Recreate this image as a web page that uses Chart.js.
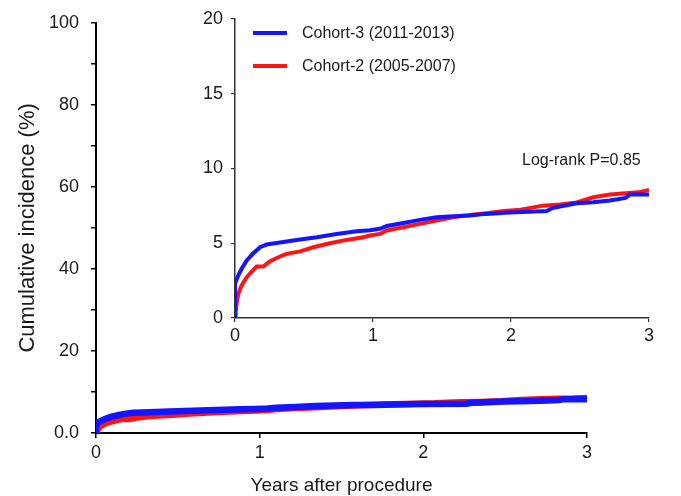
<!DOCTYPE html>
<html>
<head>
<meta charset="utf-8">
<script src="https://cdn.jsdelivr.net/npm/chart.js@4.4.1/dist/chart.umd.min.js"></script>
<style>
  html, body { margin: 0; padding: 0; background: #fff; }
  #wrap { position: relative; width: 681px; height: 496px; overflow: hidden; font-family: "Liberation Sans", Arial, sans-serif; color: #1a1a1a; }
  canvas { position: absolute; }
  #main { left: 0; top: 0; }
  #inset { left: 180px; top: 0; }
  .lg-line { position: absolute; left: 253px; width: 34px; height: 4px; }
  .lg-text { position: absolute; left: 302px; font-size: 16px; line-height: 18px; white-space: nowrap; }
  #logrank { position: absolute; left: 522px; top: 151px; font-size: 16px; line-height: 18px; white-space: nowrap; }
</style>
</head>
<body>
<div id="wrap">
  <canvas id="main" width="681" height="496"></canvas>
  <canvas id="inset" width="490" height="350"></canvas>
  <div class="lg-line" style="top:31px;background:rgb(20,20,255);"></div>
  <div class="lg-text" id="lg0" style="top:24px;"></div>
  <div class="lg-line" style="top:64px;background:rgb(255,20,20);"></div>
  <div class="lg-text" id="lg1" style="top:57px;"></div>
  <div id="logrank"></div>
</div>
<script>
// ---- data ----
const seriesNames = ['Cohort-3 (2011-2013)', 'Cohort-2 (2005-2007)'];
const annotationText = 'Log-rank P=0.85';

const cohort3Years  = [0, 0, 0.024, 0.048, 0.085, 0.133, 0.181, 0.229, 0.326, 0.447, 0.592, 0.737, 0.882, 0.978, 1.05, 1.10, 1.22, 1.34, 1.46, 1.58, 1.70, 1.82, 1.99, 2.26, 2.30, 2.355, 2.476, 2.596, 2.717, 2.83, 2.86, 3.0];
const cohort3Values = [0, 2.3, 2.85, 3.29, 3.85, 4.33, 4.73, 4.91, 5.05, 5.22, 5.4, 5.62, 5.8, 5.87, 5.96, 6.15, 6.35, 6.56, 6.73, 6.8, 6.85, 6.96, 7.05, 7.15, 7.35, 7.45, 7.67, 7.73, 7.85, 8.03, 8.25, 8.25];

const cohort2Years  = [0, 0.005, 0.012, 0.024, 0.048, 0.085, 0.133, 0.157, 0.205, 0.254, 0.326, 0.374, 0.471, 0.568, 0.688, 0.809, 0.93, 0.978, 1.05, 1.10, 1.22, 1.34, 1.46, 1.58, 1.70, 1.82, 1.95, 2.07, 2.23, 2.355, 2.476, 2.596, 2.717, 2.83, 2.92, 3.0];
const cohort2Values = [0, 0.4, 0.96, 1.62, 2.18, 2.73, 3.22, 3.44, 3.44, 3.8, 4.11, 4.29, 4.45, 4.73, 5.0, 5.22, 5.4, 5.51, 5.62, 5.85, 6.07, 6.29, 6.51, 6.73, 6.89, 7.0, 7.15, 7.24, 7.51, 7.58, 7.73, 8.07, 8.25, 8.34, 8.4, 8.56];

const mainYTickLabels  = ['0.0', '', '20', '', '40', '', '60', '', '80', '', '100'];
const xTickLabels      = ['0', '1', '2', '3'];
const insetYTickLabels = ['0', '5', '10', '15', '20'];
const xTitle = 'Years after procedure';
const yTitle = 'Cumulative incidence (%)';

// ---- build ----
const BLUE = 'rgb(20,20,255)';
const RED = 'rgb(255,20,20)';
const FONT = '"Liberation Sans", Arial, sans-serif';

document.getElementById('lg0').textContent = seriesNames[0];
document.getElementById('lg1').textContent = seriesNames[1];
document.getElementById('logrank').textContent = annotationText;

function pts(xs, ys) { return xs.map((x, i) => ({ x: x, y: ys[i] })); }

function datasets(width) {
  return [
    { label: seriesNames[0], data: pts(cohort3Years, cohort3Values), borderColor: BLUE, borderWidth: width, pointRadius: 0, tension: 0, fill: false },
    { label: seriesNames[1], data: pts(cohort2Years, cohort2Values), borderColor: RED, borderWidth: width, pointRadius: 0, tension: 0, fill: false }
  ];
}

const common = {
  responsive: false,
  animation: false,
  events: [],
  plugins: { legend: { display: false }, tooltip: { enabled: false } }
};

new Chart(document.getElementById('main'), {
  type: 'line',
  data: { datasets: datasets(6.5) },
  options: Object.assign({}, common, {
    layout: { padding: { left: 0, top: 20, right: 94, bottom: 0 } },
    scales: {
      x: {
        type: 'linear', min: 0, max: 3,
        afterFit: s => { s.height = 63; },
        border: { display: true, color: '#000', width: 2 },
        grid: { drawOnChartArea: false, drawTicks: true, tickLength: 5, color: '#000', lineWidth: 1.5 },
        ticks: { stepSize: 1, padding: 4, color: '#1a1a1a', font: { family: FONT, size: 18 }, maxRotation: 0,
                 callback: (v, i) => xTickLabels[i] },
        title: { display: true, text: xTitle, color: '#1a1a1a', font: { family: FONT, size: 19, lineHeight: 1.1 }, padding: 0 }
      },
      y: {
        type: 'linear', min: 0, max: 100,
        afterFit: s => { s.width = 96; },
        border: { display: true, color: '#000', width: 2 },
        grid: { drawOnChartArea: false, drawTicks: true, tickLength: 5, color: '#000', lineWidth: 1.5 },
        ticks: { stepSize: 10, padding: 12, color: '#1a1a1a', font: { family: FONT, size: 18 },
                 callback: (v, i) => mainYTickLabels[i] },
        title: { display: true, text: yTitle, color: '#1a1a1a', font: { family: FONT, size: 22, lineHeight: 1.2 }, padding: { top: 15, bottom: 0 } }
      }
    }
  })
});

new Chart(document.getElementById('inset'), {
  type: 'line',
  data: { datasets: datasets(4) },
  options: Object.assign({}, common, {
    layout: { padding: { left: 0, top: 17, right: 21, bottom: 0 } },
    scales: {
      x: {
        type: 'linear', min: 0, max: 3,
        afterFit: s => { s.height = 32; },
        border: { display: true, color: '#333', width: 1.5 },
        grid: { drawOnChartArea: false, drawTicks: true, tickLength: 4, color: '#333', lineWidth: 1.2 },
        ticks: { stepSize: 1, padding: 3, color: '#1a1a1a', font: { family: FONT, size: 18 }, maxRotation: 0,
                 callback: (v, i) => xTickLabels[i] }
      },
      y: {
        type: 'linear', min: 0, max: 20,
        afterFit: s => { s.width = 55; },
        border: { display: true, color: '#333', width: 1.5 },
        grid: { drawOnChartArea: false, drawTicks: true, tickLength: 4, color: '#333', lineWidth: 1.2 },
        ticks: { stepSize: 5, padding: 8, color: '#1a1a1a', font: { family: FONT, size: 18 },
                 callback: (v, i) => insetYTickLabels[i] }
      }
    }
  })
});
</script>
</body>
</html>
